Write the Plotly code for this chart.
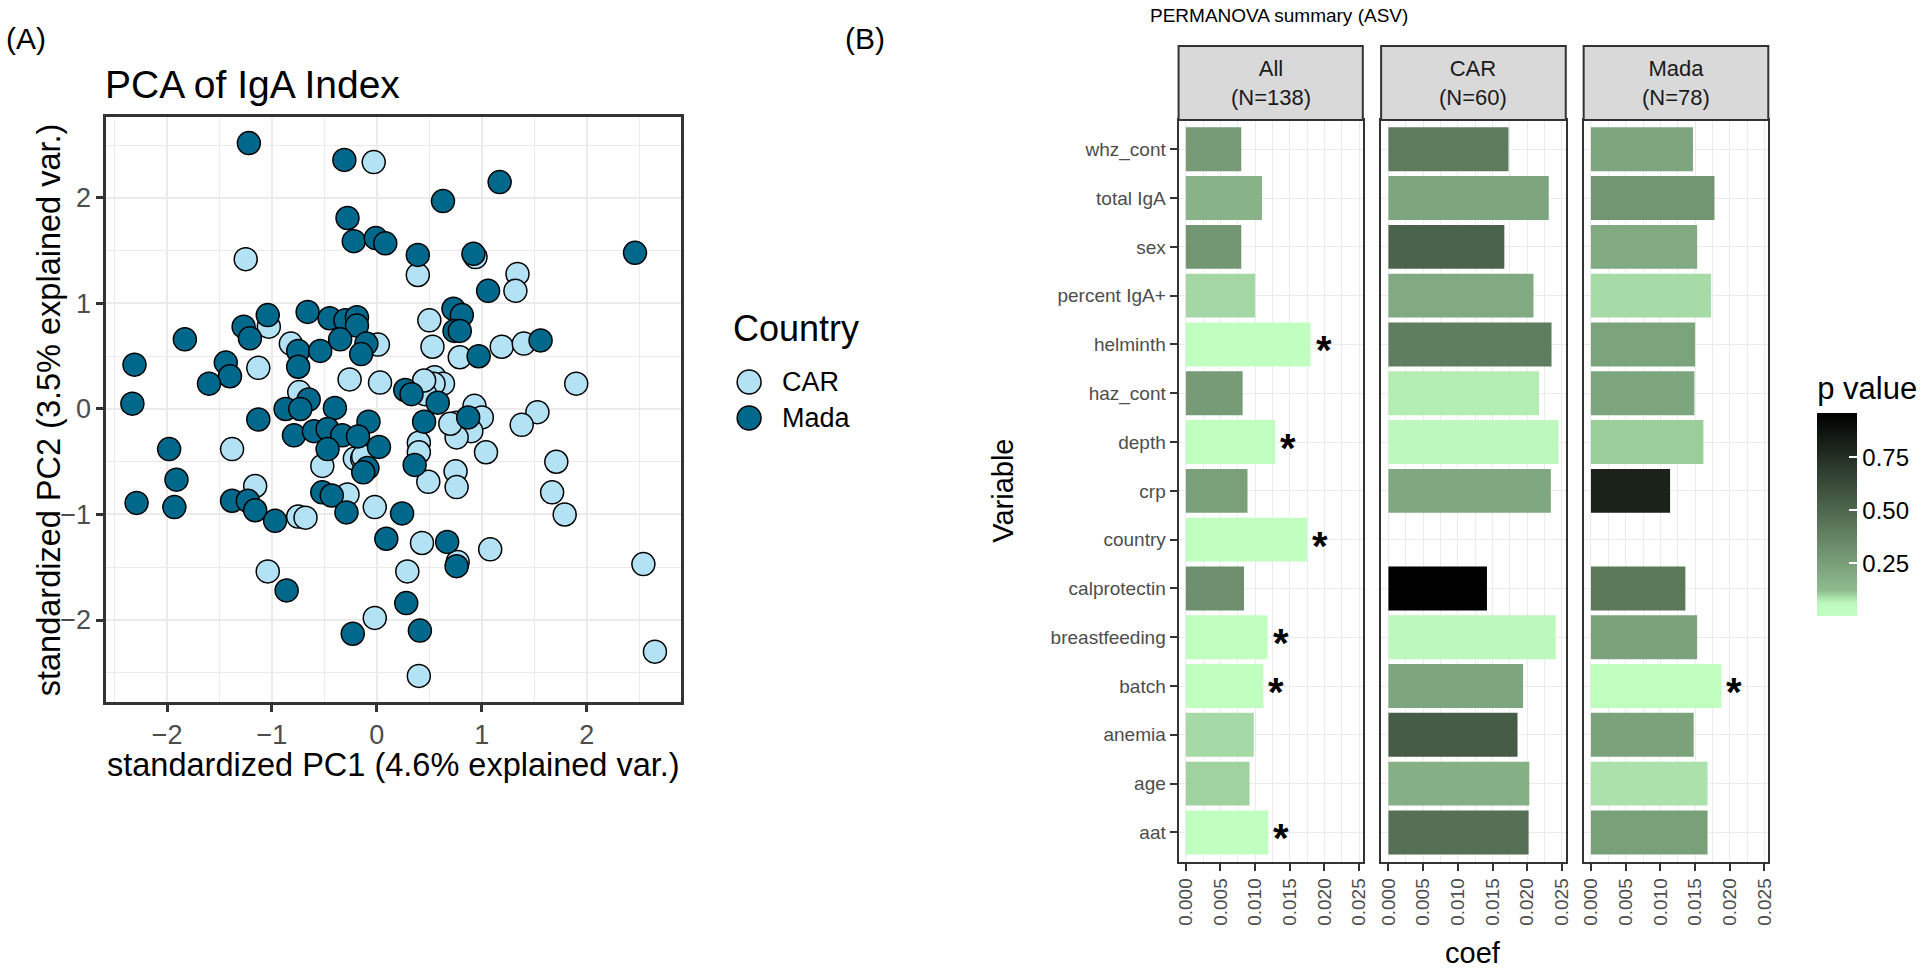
import plotly.graph_objects as go

W, H = 1928, 968
FONT = "Liberation Sans, Arial, sans-serif"

# ---- panel A: PCA scores (standardized PC1 / PC2) ----
car_pc1 = [-0.03, -1.25, -1.03, -0.82, 0.01, -1.13, -0.26, 0.03, -0.74, -1.38, -0.52, -0.21, -0.14,
           -1.16, -0.28, -0.02, -0.75, -0.68, -1.04, -0.02, 0.94, 0.39, 1.34, 1.32, 0.50, 0.53, 0.79,
           1.19, 1.40, 1.90, 0.55, 0.63, 0.54, 0.46, 0.93, 1.53, 1.00, 0.76, 0.90, 0.76, 1.38, 1.04,
           1.71, 0.40, 0.40, 0.49, 0.75, 0.76, 1.67, 1.79, 0.43, 0.77, 1.08, 0.29, 2.54, 0.40, 2.65,
           0.45, -0.13, 0.70]
car_pc2 = [2.34, 1.42, 0.78, 0.62, 0.61, 0.39, 0.28, 0.25, 0.16, -0.38, -0.54, -0.47, -0.47,
           -0.73, -0.81, -0.93, -1.02, -1.03, -1.54, -1.98, 1.44, 1.27, 1.28, 1.12, 0.84, 0.59, 0.49,
           0.59, 0.62, 0.24, 0.30, 0.24, 0.24, 0.14, 0.03, -0.03, -0.08, -0.13, -0.21, -0.27, -0.15,
           -0.41, -0.50, -0.32, -0.41, -0.69, -0.59, -0.74, -0.79, -1.00, -1.27, -1.45, -1.33, -1.54,
           -1.47, -2.53, -2.30, 0.27, -0.45, -0.14]
mada_pc1 = [-1.22, -0.31, -0.28, -0.22, -0.01, 0.08, -0.66, -1.04, -1.27, -1.21, -0.45, -0.30, -0.19,
            -0.19, -1.83, -0.75, -0.54, -0.35, -0.10, -0.15, -2.31, -1.44, -1.40, -1.60, -0.75, -2.33,
            -0.65, -0.87, -0.73, -0.40, -1.13, -0.08, -0.79, -0.60, -0.47, -0.33, -0.18, 0.02, -0.47,
            -1.98, -0.09, -0.13, -1.91, -0.52, -0.43, -0.29, -2.29, -1.93, -1.38, -1.23, -1.16, -0.97,
            0.09, -0.86, -0.23, 1.17, 0.63, 0.39, 0.92, 2.46, 1.06, 0.73, 0.81, 0.74, 0.79, 0.97, 1.56,
            0.27, 0.33, 0.58, 0.45, 0.87, 0.36, 0.24, 0.67, 0.76, 0.28, 0.41]
mada_pc2 = [2.52, 2.36, 1.81, 1.59, 1.62, 1.57, 0.92, 0.89, 0.78, 0.67, 0.86, 0.84, 0.87, 0.79, 0.66,
            0.55, 0.55, 0.66, 0.62, 0.52, 0.42, 0.44, 0.31, 0.24, 0.40, 0.05, 0.09, 0.00, 0.00, 0.01,
            -0.10, -0.12, -0.25, -0.21, -0.19, -0.25, -0.26, -0.36, -0.38, -0.38, -0.56, -0.60, -0.67,
            -0.79, -0.82, -0.98, -0.89, -0.93, -0.87, -0.87, -0.96, -1.06, -1.23, -1.72, -2.13, 2.15,
            1.97, 1.46, 1.47, 1.48, 1.12, 0.95, 0.89, 0.74, 0.74, 0.50, 0.65, 0.18, 0.14, 0.06, -0.12,
            -0.08, -0.53, -0.99, -1.26, -1.49, -1.84, -2.10]
countries = ["CAR", "Mada"]

# ---- panel B: PERMANOVA summary ----
variables = ["whz_cont", "total IgA", "sex", "percent IgA+", "helminth", "haz_cont", "depth", "crp",
             "country", "calprotectin", "breastfeeding", "batch", "anemia", "age", "aat"]
facet_names = ["All<br>(N=138)", "CAR<br>(N=60)", "Mada<br>(N=78)"]
coef_all = [0.0080, 0.0110, 0.0080, 0.0100, 0.0180, 0.0082, 0.0129, 0.0089, 0.0175, 0.0084,
            0.0118, 0.0112, 0.0098, 0.0092, 0.0119]
coef_car = [0.0173, 0.0231, 0.0167, 0.0209, 0.0235, 0.0217, 0.0245, 0.0234, None, 0.0142,
            0.0241, 0.0194, 0.0186, 0.0203, 0.0202]
coef_mada = [0.0147, 0.0178, 0.0153, 0.0173, 0.0150, 0.0149, 0.0162, 0.0114, None, 0.0136,
             0.0153, 0.0188, 0.0148, 0.0168, 0.0168]
p_all = [0.27, 0.16, 0.29, 0.095, 0.001, 0.27, 0.002, 0.245, 0.001, 0.32, 0.004, 0.003, 0.093, 0.10, 0.002]
p_car = [0.41, 0.22, 0.52, 0.20, 0.40, 0.074, 0.06, 0.21, None, 0.96, 0.058, 0.22, 0.55, 0.18, 0.46]
p_mada = [0.22, 0.29, 0.20, 0.092, 0.23, 0.22, 0.104, 0.81, None, 0.42, 0.235, 0.01, 0.235, 0.085, 0.245]

CAR_COL, MADA_COL = "#B3E2F5", "#00688B"
GRID, BORDER, TICKTXT = "#EBEBEB", "#333333", "#4D4D4D"


def px_x(v):
    return v / W


def px_y(v):
    return 1 - v / H


def label(text, x, y, size, xanchor="center", yanchor="middle", color="black", **kw):
    return dict(text=text, xref="paper", yref="paper", x=px_x(x), y=px_y(y), xanchor=xanchor,
                yanchor=yanchor, showarrow=False, font=dict(size=size, color=color), **kw)


fig = go.Figure()
for name, xs, ys, col in [("CAR", car_pc1, car_pc2, CAR_COL), ("Mada", mada_pc1, mada_pc2, MADA_COL)]:
    fig.add_trace(go.Scatter(
        x=xs, y=ys, mode="markers", name=name, xaxis="x", yaxis="y", showlegend=False,
        marker=dict(size=23, color=col, line=dict(color="black", width=1.5)),
    ))

p_vals = [p for ps in (p_all, p_car, p_mada) for p in ps if p is not None]
cmin, cmax = min(p_vals), max(p_vals)

facets = [(coef_all, p_all), (coef_car, p_car), (coef_mada, p_mada)]
for k, (coefs, ps) in enumerate(facets):
    fig.add_trace(go.Bar(
        x=coefs, y=variables, orientation="h", width=0.9, showlegend=False,
        xaxis=f"x{k + 2}", yaxis=f"y{k + 2}",
        marker=dict(color=[p if p is not None else 0 for p in ps], coloraxis="coloraxis", line=dict(width=0)),
    ))

# facet geometry (pixels)
facet_px = [(1180.7, 1365.9), (1384.3, 1569.9), (1587.9, 1773.5)]
b_top, b_bot = 120, 861.7
strip_top = 46

axis_common = dict(showline=True, mirror=True, linecolor=BORDER, ticks="outside", tickcolor=BORDER,
                   zeroline=False, showgrid=True, gridcolor=GRID)

layout = dict(
    width=W, height=H, margin=dict(l=0, r=0, t=0, b=0),
    plot_bgcolor="white", paper_bgcolor="white",
    font=dict(family=FONT, color="black"),
    showlegend=False,
    xaxis=dict(domain=[px_x(102.7), px_x(680.7)], range=[-2.58, 2.90], dtick=1, tick0=0,
               linewidth=2.5, tickwidth=2.5, ticklen=7, gridwidth=2,
               tickfont=dict(size=27, color=TICKTXT),
               minor=dict(dtick=0.5, tick0=0, showgrid=True, gridcolor=GRID, gridwidth=1.2), **axis_common),
    yaxis=dict(domain=[px_y(702.3), px_y(116.7)], range=[-2.78, 2.77], dtick=1, tick0=0,
               linewidth=2.5, tickwidth=2.5, ticklen=7, gridwidth=2,
               tickfont=dict(size=27, color=TICKTXT),
               minor=dict(dtick=0.5, tick0=0, showgrid=True, gridcolor=GRID, gridwidth=1.2), **axis_common),
    coloraxis=dict(
        cmin=cmin, cmax=cmax,
        colorscale=[[0, "#C1FFC1"], [0.065, "#BDF8BD"], [0.125, "#8FBC8F"], [1, "#000000"]],
        colorbar=dict(x=px_x(1822.7), xanchor="left", xpad=0, y=px_y(373), yanchor="top", ypad=0,
                      lenmode="pixels", len=243, thickness=40, outlinewidth=0,
                      title=dict(text="p value", side="top", font=dict(size=31)),
                      tickvals=[0.25, 0.5, 0.75], ticktext=["0.25", "0.50", "0.75"],
                      ticks="inside", ticklen=8, tickcolor="white", tickwidth=1.5,
                      tickfont=dict(size=24)),
    ),
)

for k, (x0, x1) in enumerate(facet_px):
    n = k + 2
    layout[f"xaxis{n}"] = dict(domain=[px_x(x0), px_x(x1)], range=[-0.00105, 0.02555], anchor=f"y{n}",
                               dtick=0.005, tick0=0, tickformat=".3f", tickangle=-90,
                               linewidth=2, tickwidth=2, ticklen=7, gridwidth=1.3,
                               tickfont=dict(size=19, color=TICKTXT),
                               minor=dict(dtick=0.0025, tick0=0, showgrid=True, gridcolor=GRID, gridwidth=0.8),
                               **axis_common)
    ycfg = dict(domain=[px_y(b_bot), px_y(b_top)], anchor=f"x{n}", type="category",
                categoryorder="array", categoryarray=variables, range=[14.6, -0.6],
                linewidth=2, tickwidth=2, ticklen=7, gridwidth=1.3,
                tickfont=dict(size=19, color=TICKTXT), **axis_common)
    if k > 0:
        ycfg.update(matches="y2", showticklabels=False, ticks="")
    layout[f"yaxis{n}"] = ycfg

shapes = []
annotations = []
for k, (x0, x1) in enumerate(facet_px):
    shapes.append(dict(type="rect", xref="paper", yref="paper", x0=px_x(x0), x1=px_x(x1),
                       y0=px_y(b_top), y1=px_y(strip_top), fillcolor="#D9D9D9",
                       line=dict(color=BORDER, width=2), layer="above"))
    annotations.append(label(facet_names[k], (x0 + x1) / 2, (b_top + strip_top) / 2, 22, color="#1A1A1A"))

# significance stars next to bars
for k, (coefs, ps) in enumerate(facets):
    n = k + 2
    for v, c, p in zip(variables, coefs, ps):
        if p is not None and c is not None and p < 0.05:
            annotations.append(dict(text="<b>*</b>", xref=f"x{n}", yref=f"y{n}", x=c, y=v,
                                    xanchor="left", yanchor="middle", xshift=3, yshift=-6,
                                    showarrow=False, font=dict(size=40, color="black")))

# legend for panel A (keys drawn in the country colours)
legend_y = [382, 418]
for name, col, ly in zip(countries, [CAR_COL, MADA_COL], legend_y):
    shapes.append(dict(type="circle", xref="paper", yref="paper",
                       x0=px_x(737), x1=px_x(761), y0=px_y(ly + 12), y1=px_y(ly - 12),
                       fillcolor=col, line=dict(color="black", width=1.5)))
    annotations.append(label(name, 780, ly, 27, xanchor="left"))

annotations += [
    label("Country", 731, 329, 36, xanchor="left"),
    label("(A)", 0, 38, 30, xanchor="left"),
    label("(B)", 843, 38, 30, xanchor="left"),
    label("PCA of IgA Index", 100, 84, 39, xanchor="left"),
    label("standardized PC1 (4.6% explained var.)", 391.7, 765, 32.5),
    label("standardized PC2 (3.5% explained var.)", 45, 409.5, 32.5, textangle=-90),
    label("PERMANOVA summary (ASV)", 1150, 16, 19, xanchor="left"),
    label("Variable", 1004, 491, 29, textangle=-90),
    label("coef", 1477, 953, 29),
]

layout["shapes"] = shapes
layout["annotations"] = annotations
fig.update_layout(**layout)
# the page's default 8px body margin would push the figure off the 1928x968 window
fig.write_html("out.html", config={"displayModeBar": False},
               post_script="document.body.style.margin='0';document.body.style.overflow='hidden';")
